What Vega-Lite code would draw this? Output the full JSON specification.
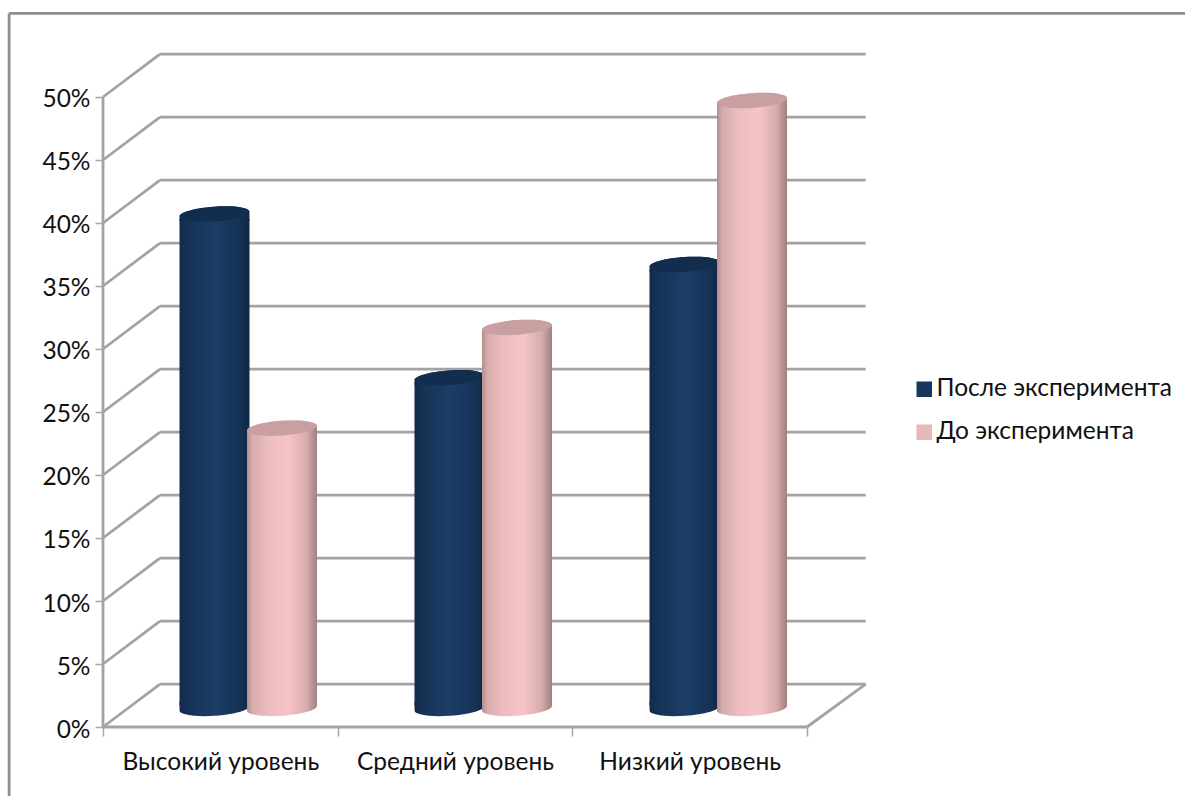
{
  "$schema": "https://vega.github.io/schema/vega-lite/v6.json",
  "width": 1185,
  "height": 796,
  "padding": 0,
  "autosize": "none",
  "background": "white",
  "config": {"view": {"stroke": null}, "font": "Lato"},
  "datasets": {
    "frame3d": [
      {"kind": "frame", "x": -0.4, "y": -5.6, "x2": -0.4, "y2": 56.63},
      {"kind": "frame", "x": -0.4, "y": 56.63, "x2": 4.7, "y2": 56.63},
      {"kind": "axis", "x": 0, "y": 0, "x2": 0, "y2": 50},
      {"kind": "axis", "x": 0, "y": 0, "x2": 3, "y2": 0},
      {"kind": "axis", "x": 3, "y": 0, "x2": 3.25, "y2": 3.41},
      {"kind": "axis", "x": 0, "y": 0, "x2": 0.243, "y2": 3.41},
      {"kind": "axis", "x": 0, "y": 5, "x2": 0.243, "y2": 8.41},
      {"kind": "axis", "x": 0, "y": 10, "x2": 0.243, "y2": 13.41},
      {"kind": "axis", "x": 0, "y": 15, "x2": 0.243, "y2": 18.41},
      {"kind": "axis", "x": 0, "y": 20, "x2": 0.243, "y2": 23.41},
      {"kind": "axis", "x": 0, "y": 25, "x2": 0.243, "y2": 28.41},
      {"kind": "axis", "x": 0, "y": 30, "x2": 0.243, "y2": 33.41},
      {"kind": "axis", "x": 0, "y": 35, "x2": 0.243, "y2": 38.41},
      {"kind": "axis", "x": 0, "y": 40, "x2": 0.243, "y2": 43.41},
      {"kind": "axis", "x": 0, "y": 45, "x2": 0.243, "y2": 48.41},
      {"kind": "axis", "x": 0, "y": 50, "x2": 0.243, "y2": 53.41},
      {"kind": "axis", "x": 0.243, "y": 3.41, "x2": 3.25, "y2": 3.41},
      {"kind": "axis", "x": 0.243, "y": 8.41, "x2": 3.25, "y2": 8.41},
      {"kind": "axis", "x": 0.243, "y": 13.41, "x2": 3.25, "y2": 13.41},
      {"kind": "axis", "x": 0.243, "y": 18.41, "x2": 3.25, "y2": 18.41},
      {"kind": "axis", "x": 0.243, "y": 23.41, "x2": 3.25, "y2": 23.41},
      {"kind": "axis", "x": 0.243, "y": 28.41, "x2": 3.25, "y2": 28.41},
      {"kind": "axis", "x": 0.243, "y": 33.41, "x2": 3.25, "y2": 33.41},
      {"kind": "axis", "x": 0.243, "y": 38.41, "x2": 3.25, "y2": 38.41},
      {"kind": "axis", "x": 0.243, "y": 43.41, "x2": 3.25, "y2": 43.41},
      {"kind": "axis", "x": 0.243, "y": 48.41, "x2": 3.25, "y2": 48.41},
      {"kind": "axis", "x": 0.243, "y": 53.41, "x2": 3.25, "y2": 53.41}
    ],
    "results": [
      {"level": "Высокий уровень", "series": "После эксперимента", "value": 39},
      {"level": "Высокий уровень", "series": "До эксперимента", "value": 22},
      {"level": "Средний уровень", "series": "После эксперимента", "value": 26},
      {"level": "Средний уровень", "series": "До эксперимента", "value": 30},
      {"level": "Низкий уровень", "series": "После эксперимента", "value": 35},
      {"level": "Низкий уровень", "series": "До эксперимента", "value": 48}
    ]
  },
  "layer": [
    {
      "data": {"name": "frame3d"},
      "mark": {"type": "rule", "strokeWidth": 2.8},
      "encoding": {
        "x": {
          "field": "x",
          "type": "quantitative",
          "scale": {"domain": [-0.4389, 4.6108], "range": [0, 1185], "nice": false, "zero": false},
          "axis": {
            "orient": "bottom",
            "offset": -69,
            "values": [0, 0.5, 1, 1.5, 2, 2.5, 3],
            "title": null,
            "grid": false,
            "domain": false,
            "tickSize": 9,
            "tickWidth": 1.5,
            "tickColor": "#a6a6a6",
            "tickOpacity": {"condition": {"test": "datum.value % 1 == 0", "value": 1}, "value": 0},
            "labelExpr": "datum.value == 0.5 ? 'Высокий уровень' : datum.value == 1.5 ? 'Средний уровень' : datum.value == 2.5 ? 'Низкий уровень' : ''",
            "labelFont": "Lato",
            "labelFontSize": 24.5,
            "labelColor": "#111111",
            "labelPadding": 14,
            "labelOverlap": false,
            "labelFlush": false,
            "labelBound": false,
            "labelLimit": 400
          }
        },
        "x2": {"field": "x2"},
        "y": {
          "field": "y",
          "type": "quantitative",
          "scale": {"domain": [-5.476, 57.698], "range": [796, 0], "nice": false, "zero": false},
          "axis": {
            "orient": "left",
            "offset": -103,
            "values": [0, 5, 10, 15, 20, 25, 30, 35, 40, 45, 50],
            "title": null,
            "grid": false,
            "domain": false,
            "tickSize": 8,
            "tickWidth": 1.5,
            "tickColor": "#a6a6a6",
            "labelExpr": "datum.value + '%'",
            "labelFont": "Lato",
            "labelFontSize": 24.5,
            "labelColor": "#111111",
            "labelPadding": 5,
            "labelOffset": 3,
            "labelOverlap": false,
            "labelBound": false
          }
        },
        "y2": {"field": "y2"},
        "stroke": {
          "field": "kind",
          "type": "nominal",
          "scale": {"domain": ["axis", "frame"], "range": ["#a3a3a3", "#8f8f8f"]},
          "legend": null
        }
      }
    },
    {
      "data": {"name": "results"},
      "encoding": {
        "x": {
          "field": "level",
          "type": "nominal",
          "sort": null,
          "axis": null,
          "scale": {"domain": ["Высокий уровень", "Средний уровень", "Низкий уровень"], "range": [130.5, 835.5], "paddingInner": 0, "paddingOuter": 0}
        },
        "xOffset": {
          "field": "series",
          "type": "nominal",
          "scale": {"domain": ["После эксперимента", "До эксперимента"], "range": [50.25, 185.25], "paddingInner": 0, "paddingOuter": 0}
        },
        "y": {
          "field": "value",
          "type": "quantitative",
          "stack": null,
          "axis": null,
          "scale": {"domain": [0, 50], "range": [705.4, 75.4], "nice": false}
        }
      },
      "layer": [
        {
          "mark": {"type": "bar", "width": 66, "yOffset": 5},
          "encoding": {
            "color": {
              "field": "series",
              "type": "nominal",
              "scale": {"domain": ["После эксперимента", "До эксперимента"], "range": ["#17375e", "#e6b9b8"]},
              "legend": {
                "orient": "none",
                "legendX": 912,
                "legendY": 377,
                "title": null,
                "symbolType": "square",
                "symbolSize": 240,
                "symbolStrokeWidth": 0,
                "labelFont": "Lato",
                "labelFontSize": 24.5,
                "labelColor": "#111111",
                "labelOffset": 0,
                "labelLimit": 400,
                "rowPadding": 18
              }
            },
            "y2": {"datum": 0}
          }
        },
        {
          "transform": [{"filter": "datum.series == 'После эксперимента'"}],
          "layer": [
            {
              "mark": {
                "type": "point",
                "filled": true,
                "opacity": 1,
                "size": 4900,
                "yOffset": 3,
                "shape": "M-1,-0.2L1,-0.2L0.998,-0.07A1,0.21,-4,0,1,-0.998,0.07Z",
                "fill": {"x1": 0, "x2": 1, "y1": 0, "y2": 0, "gradient": "linear", "stops": [
                  {"offset": 0, "color": "#12294a"},
                  {"offset": 0.12, "color": "#163356"},
                  {"offset": 0.5, "color": "#1b3d68"},
                  {"offset": 0.85, "color": "#163356"},
                  {"offset": 1, "color": "#112743"}
                ]}
              },
              "encoding": {"y": {"datum": 0}}
            },
            {
              "mark": {
                "type": "bar",
                "width": 70,
                "yOffset": 5,
                "fill": {"x1": 0, "x2": 1, "y1": 0, "y2": 0, "gradient": "linear", "stops": [
                  {"offset": 0, "color": "#12294a"},
                  {"offset": 0.12, "color": "#163356"},
                  {"offset": 0.5, "color": "#1b3d68"},
                  {"offset": 0.85, "color": "#163356"},
                  {"offset": 1, "color": "#112743"}
                ]}
              },
              "encoding": {"y2": {"datum": 0}}
            },
            {
              "mark": {
                "type": "point",
                "filled": true,
                "opacity": 1,
                "size": 4900,
                "shape": "M-0.998,0.07A1,0.21,-4,0,1,0.998,-0.07L1,0.2L-1,0.2Z",
                "fill": {"x1": 0, "x2": 1, "y1": 0, "y2": 0, "gradient": "linear", "stops": [
                  {"offset": 0, "color": "#12294a"},
                  {"offset": 0.12, "color": "#163356"},
                  {"offset": 0.5, "color": "#1b3d68"},
                  {"offset": 0.85, "color": "#163356"},
                  {"offset": 1, "color": "#112743"}
                ]}
              }
            },
            {
              "mark": {
                "type": "point",
                "filled": true,
                "opacity": 1,
                "size": 4900,
                "shape": "M-0.998,0.07A1,0.21,-4,1,1,0.998,-0.07A1,0.21,-4,1,1,-0.998,0.07Z",
                "fill": "#132d4f"
              }
            }
          ]
        },
        {
          "transform": [{"filter": "datum.series == 'До эксперимента'"}],
          "layer": [
            {
              "mark": {
                "type": "point",
                "filled": true,
                "opacity": 1,
                "size": 4900,
                "yOffset": 3,
                "shape": "M-1,-0.2L1,-0.2L0.998,-0.07A1,0.21,-4,0,1,-0.998,0.07Z",
                "fill": {"x1": 0, "x2": 1, "y1": 0, "y2": 0, "gradient": "linear", "stops": [
                  {"offset": 0, "color": "#b48e8e"},
                  {"offset": 0.08, "color": "#d6adad"},
                  {"offset": 0.3, "color": "#ecbcbe"},
                  {"offset": 0.6, "color": "#f6c4c7"},
                  {"offset": 0.85, "color": "#d5acac"},
                  {"offset": 1, "color": "#a27f7f"}
                ]}
              },
              "encoding": {"y": {"datum": 0}}
            },
            {
              "mark": {
                "type": "bar",
                "width": 70,
                "yOffset": 5,
                "fill": {"x1": 0, "x2": 1, "y1": 0, "y2": 0, "gradient": "linear", "stops": [
                  {"offset": 0, "color": "#b48e8e"},
                  {"offset": 0.08, "color": "#d6adad"},
                  {"offset": 0.3, "color": "#ecbcbe"},
                  {"offset": 0.6, "color": "#f6c4c7"},
                  {"offset": 0.85, "color": "#d5acac"},
                  {"offset": 1, "color": "#a27f7f"}
                ]}
              },
              "encoding": {"y2": {"datum": 0}}
            },
            {
              "mark": {
                "type": "point",
                "filled": true,
                "opacity": 1,
                "size": 4900,
                "shape": "M-0.998,0.07A1,0.21,-4,0,1,0.998,-0.07L1,0.2L-1,0.2Z",
                "fill": {"x1": 0, "x2": 1, "y1": 0, "y2": 0, "gradient": "linear", "stops": [
                  {"offset": 0, "color": "#b48e8e"},
                  {"offset": 0.08, "color": "#d6adad"},
                  {"offset": 0.3, "color": "#ecbcbe"},
                  {"offset": 0.6, "color": "#f6c4c7"},
                  {"offset": 0.85, "color": "#d5acac"},
                  {"offset": 1, "color": "#a27f7f"}
                ]}
              }
            },
            {
              "mark": {
                "type": "point",
                "filled": true,
                "opacity": 1,
                "size": 4900,
                "shape": "M-0.998,0.07A1,0.21,-4,1,1,0.998,-0.07A1,0.21,-4,1,1,-0.998,0.07Z",
                "fill": "#c9a0a1"
              }
            }
          ]
        }
      ]
    }
  ],
  "resolve": {"scale": {"x": "independent", "y": "independent"}}
}
